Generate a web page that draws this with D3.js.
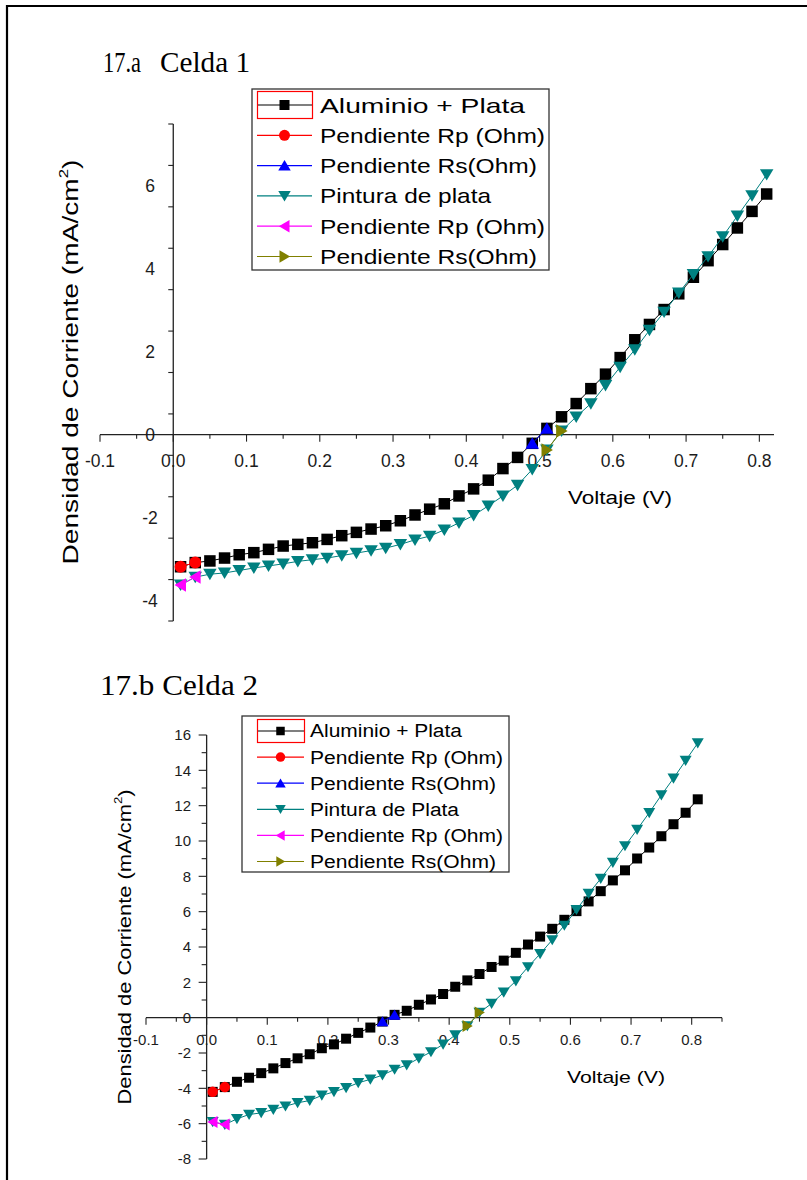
<!DOCTYPE html>
<html><head><meta charset="utf-8">
<script src="https://cdn.jsdelivr.net/npm/d3@7"></script>
<style>body{margin:0;background:#fff}svg{display:block}</style>
</head><body>
<svg id="c" width="807" height="1180"></svg>
<script>
// ---------- DATA ----------
const voltage = [0.01,0.03,0.05,0.07,0.09,0.11,0.13,0.15,0.17,0.19,0.21,0.23,0.25,0.27,0.29,0.31,0.33,0.35,0.37,0.39,0.41,0.43,0.45,0.47,0.49,0.51,0.53,0.55,0.57,0.59,0.61,0.63,0.65,0.67,0.69,0.71,0.73,0.75,0.77,0.79,0.81];

// Celda 1
const c1Aluminio = [-3.19,-3.09,-3.05,-2.98,-2.90,-2.85,-2.77,-2.69,-2.65,-2.61,-2.53,-2.44,-2.36,-2.28,-2.20,-2.08,-1.94,-1.80,-1.67,-1.48,-1.31,-1.10,-0.82,-0.55,-0.21,0.15,0.43,0.75,1.11,1.46,1.86,2.29,2.66,3.02,3.40,3.80,4.20,4.59,4.99,5.39,5.81];
const c1Pintura = [-3.63,-3.44,-3.37,-3.34,-3.28,-3.22,-3.17,-3.12,-3.06,-3.02,-2.98,-2.92,-2.86,-2.80,-2.74,-2.65,-2.54,-2.45,-2.30,-2.13,-1.95,-1.72,-1.48,-1.22,-0.84,-0.37,0.09,0.43,0.75,1.19,1.63,2.05,2.52,2.96,3.42,3.87,4.30,4.78,5.28,5.77,6.28];
const c1RpAlV = [0.01,0.03], c1RpAlJ = [-3.19,-3.09];
const c1RsAlV = [0.49,0.51], c1RsAlJ = [-0.21,0.15];
const c1RpPiV = [0.01,0.03], c1RpPiJ = [-3.63,-3.44];
const c1RsPiV = [0.51,0.53], c1RsPiJ = [-0.37,0.09];
const c1Legend = ["Aluminio + Plata","Pendiente Rp (Ohm)","Pendiente Rs(Ohm)","Pintura de plata","Pendiente Rp (Ohm)","Pendiente Rs(Ohm)"];
const c1XTicks = [-0.1,0.0,0.1,0.2,0.3,0.4,0.5,0.6,0.7,0.8];
const c1XTickLabels = ["-0.1","0.0","0.1","0.2","0.3","0.4","0.5","0.6","0.7","0.8"];
const c1YTicks = [-4,-2,0,2,4,6];
const c1YTickLabels = ["-4","-2","0","2","4","6"];

// Celda 2
const c2Aluminio = [-4.20,-3.93,-3.63,-3.40,-3.14,-2.87,-2.57,-2.30,-2.07,-1.73,-1.51,-1.19,-0.86,-0.56,-0.22,0.16,0.39,0.73,1.03,1.34,1.75,2.11,2.47,2.87,3.23,3.67,4.14,4.59,5.03,5.54,6.03,6.58,7.16,7.77,8.34,9.01,9.63,10.27,10.95,11.60,12.36];
const c2Pintura = [-5.90,-6.05,-5.73,-5.48,-5.39,-5.20,-5.01,-4.82,-4.69,-4.40,-4.20,-3.97,-3.69,-3.49,-3.25,-2.93,-2.68,-2.30,-1.94,-1.51,-0.98,-0.47,0.29,0.80,1.43,2.07,2.87,3.61,4.40,5.22,6.11,7.02,7.87,8.78,9.72,10.65,11.60,12.60,13.55,14.55,15.54];
const c2RpAlV = [0.01,0.03], c2RpAlJ = [-4.20,-3.93];
const c2RsAlV = [0.29,0.31], c2RsAlJ = [-0.22,0.16];
const c2RpPiV = [0.01,0.03], c2RpPiJ = [-5.90,-6.05];
const c2RsPiV = [0.43,0.45], c2RsPiJ = [-0.47,0.29];
const c2Legend = ["Aluminio + Plata","Pendiente Rp (Ohm)","Pendiente Rs(Ohm)","Pintura de Plata","Pendiente Rp (Ohm)","Pendiente Rs(Ohm)"];
const c2XTicks = [-0.1,0.0,0.1,0.2,0.3,0.4,0.5,0.6,0.7,0.8];
const c2XTickLabels = ["-0.1","0.0","0.1","0.2","0.3","0.4","0.5","0.6","0.7","0.8"];
const c2YTicks = [-8,-6,-4,-2,0,2,4,6,8,10,12,14,16];
const c2YTickLabels = ["-8","-6","-4","-2","0","2","4","6","8","10","12","14","16"];

const yTitle = "Densidad de Corriente (mA/cm";
const xTitle = "Voltaje (V)";

// ---------- DRAW ----------
const svg = d3.select("#c");
const SANS = "'Liberation Sans', Arial, sans-serif";
const SERIF = "'Liberation Serif', 'Times New Roman', serif";
const COL = {al:"#000000", rp:"#ff0000", rs:"#0000ff", pi:"#008080", rp2:"#ff00ff", rs2:"#808000"};

// outer frame (top & left)
svg.append("line").attr("x1",7).attr("x2",807).attr("y1",6).attr("y2",6).attr("stroke","#000").attr("stroke-width",2.2);
svg.append("line").attr("x1",7).attr("x2",7).attr("y1",5).attr("y2",1180).attr("stroke","#000").attr("stroke-width",2.2);

function marker(shape, s){
  const h = s/2;
  switch(shape){
    case "square": return `M${-h},${-h}H${h}V${h}H${-h}Z`;
    case "circle": return `M${-h},0A${h},${h} 0 1,0 ${h},0A${h},${h} 0 1,0 ${-h},0Z`;
    case "up": return `M0,${-h*0.9}L${h},${h*0.8}L${-h},${h*0.8}Z`;
    case "down": return `M0,${h*0.9}L${h},${-h*0.8}L${-h},${-h*0.8}Z`;
    case "left": return `M${-h*0.9},0L${h*0.8},${-h}L${h*0.8},${h}Z`;
    case "right": return `M${h*0.9},0L${-h*0.8},${-h}L${-h*0.8},${h}Z`;
  }
}

function panel(cfg){
  const g = svg.append("g");
  const x = d3.scaleLinear().domain(cfg.xDomain).range(cfg.xRange);
  const y = d3.scaleLinear().domain(cfg.yDomain).range(cfg.yRange);
  const x0 = x(0), y0 = y(0);

  cfg.title.forEach(t=>{
    g.append("text").attr("x",t.x).attr("y",t.y).attr("font-family",SERIF).attr("font-size",t.fs)
      .attr("textLength",t.len).attr("lengthAdjust","spacingAndGlyphs").attr("fill","#000").text(t.s);
  });

  const ax = g.append("g").attr("stroke","#222").attr("stroke-width",1.3);
  ax.append("line").attr("x1",x.range()[0]).attr("x2",x.range()[1]).attr("y1",y0).attr("y2",y0);
  ax.append("line").attr("x1",x0).attr("x2",x0).attr("y1",y.range()[0]).attr("y2",y.range()[1]);
  const xMinor = d3.range(cfg.xDomain[0], cfg.xDomain[1]+1e-9, 0.05);
  xMinor.forEach(v=>{
    const major = Math.abs(Math.round(v*10)-v*10)<1e-6;
    ax.append("line").attr("x1",x(v)).attr("x2",x(v)).attr("y1",y0).attr("y2",y0+(major?cfg.xMajLen:cfg.xMinLen)).attr("stroke-width",1.1);
  });
  d3.range(cfg.yDomain[0], cfg.yDomain[1]+1e-9, 1).forEach(v=>{
    const major = v%2===0;
    if (v===0) return;
    ax.append("line").attr("x1",x0).attr("x2",x0-(major?cfg.yMajLen:cfg.yMinLen)).attr("y1",y(v)).attr("y2",y(v)).attr("stroke-width",1.1);
  });
  cfg.xTicks.forEach((v,i)=>{
    g.append("text").attr("x",x(v)).attr("y",cfg.xLabBase).attr("text-anchor","middle")
      .attr("font-family",SANS).attr("font-size",cfg.tickFs).attr("fill","#1c1c1c").text(cfg.xTickLabels[i]);
  });
  cfg.yTicks.forEach((v,i)=>{
    g.append("text").attr("x",cfg.yLabX).attr("y",y(v)+cfg.tickFs*0.36).attr("text-anchor",cfg.yLabAnchor)
      .attr("font-family",SANS).attr("font-size",cfg.tickFs).attr("fill","#1c1c1c").text(cfg.yTickLabels[i]);
  });
  const yt = g.append("text").attr("transform",`translate(${cfg.yTitle.x},${cfg.yTitle.y}) rotate(-90)`)
    .attr("text-anchor","middle").attr("font-family",SANS).attr("font-size",cfg.yTitle.fs).attr("fill","#000")
    .attr("textLength",cfg.yTitle.len).attr("lengthAdjust","spacingAndGlyphs");
  yt.append("tspan").text(yTitle);
  yt.append("tspan").attr("dy",-cfg.yTitle.fs*0.45).attr("font-size",cfg.yTitle.fs*0.6).text("2");
  yt.append("tspan").attr("dy",cfg.yTitle.fs*0.45).text(")");
  g.append("text").attr("x",cfg.xTitle.x).attr("y",cfg.xTitle.y).attr("font-family",SANS).attr("font-size",cfg.xTitle.fs)
    .attr("textLength",cfg.xTitle.len).attr("lengthAdjust","spacingAndGlyphs").attr("fill","#000").text(xTitle);

  const line = d3.line().x(d=>x(d[0])).y(d=>y(d[1]));
  const series = [
    {V:voltage, J:cfg.al, col:COL.al, shape:"square"},
    {V:voltage, J:cfg.pi, col:COL.pi, shape:"down"},
    {V:cfg.rpAl[0], J:cfg.rpAl[1], col:COL.rp, shape:"circle"},
    {V:cfg.rsAl[0], J:cfg.rsAl[1], col:COL.rs, shape:"up"},
    {V:cfg.rpPi[0], J:cfg.rpPi[1], col:COL.rp2, shape:"left"},
    {V:cfg.rsPi[0], J:cfg.rsPi[1], col:COL.rs2, shape:"right"},
  ];
  series.forEach(s=>{
    const pts = s.V.map((v,i)=>[v,s.J[i]]);
    g.append("path").attr("d",line(pts)).attr("fill","none").attr("stroke",s.col).attr("stroke-width",1);
    g.selectAll(null).data(pts).enter().append("path")
      .attr("transform",d=>`translate(${x(d[0])},${y(d[1])})`)
      .attr("d",marker(s.shape, s.shape==="square"?cfg.sq:(s.shape==="circle"?cfg.ci:cfg.tri)))
      .attr("fill",s.col);
  });

  const L = cfg.legend;
  const lg = g.append("g");
  lg.append("rect").attr("x",L.x).attr("y",L.y).attr("width",L.w).attr("height",L.h).attr("fill","#fff").attr("stroke","#333").attr("stroke-width",1.3);
  const legSeries = [
    {col:COL.al,shape:"square"},{col:COL.rp,shape:"circle"},{col:COL.rs,shape:"up"},
    {col:COL.pi,shape:"down"},{col:COL.rp2,shape:"left"},{col:COL.rs2,shape:"right"}];
  legSeries.forEach((s,i)=>{
    const cy = L.row0 + i*L.dy;
    lg.append("line").attr("x1",L.sx0).attr("x2",L.sx1).attr("y1",cy).attr("y2",cy).attr("stroke",s.col).attr("stroke-width",1.2);
    const cx = (L.sx0+L.sx1)/2;
    lg.append("path").attr("transform",`translate(${cx},${cy})`)
      .attr("d",marker(s.shape, s.shape==="square"?L.sq:(s.shape==="circle"?L.ci:L.tri))).attr("fill",s.col);
    lg.append("text").attr("x",L.tx).attr("y",cy+L.fs*0.36).attr("font-family",SANS).attr("font-size",L.fs)
      .attr("textLength",L.lens[i]).attr("lengthAdjust","spacingAndGlyphs").attr("fill","#000").text(cfg.legendLabels[i]);
  });
  lg.append("rect").attr("x",L.sx0+0.5).attr("y",L.row0-L.rh/2).attr("width",L.sx1-L.sx0).attr("height",L.rh)
    .attr("fill","none").attr("stroke","#ff0000").attr("stroke-width",1.2);
}

panel({
  xDomain:[-0.1,0.82], xRange:[100,774], yDomain:[-4.5,7.5], yRange:[621,124],
  title:[{s:"17.a",x:103,y:72,fs:29,len:38},{s:"Celda 1",x:160,y:72,fs:29,len:90}],
  xMajLen:7, xMinLen:4, yMajLen:9, yMinLen:5,
  xTicks:c1XTicks, xTickLabels:c1XTickLabels, yTicks:c1YTicks, yTickLabels:c1YTickLabels,
  tickFs:17.5, xLabBase:467, yLabX:150, yLabAnchor:"middle",
  yTitle:{x:78,y:362,fs:22.5,len:405}, xTitle:{x:568,y:504,fs:18,len:104},
  al:c1Aluminio, pi:c1Pintura, rpAl:[c1RpAlV,c1RpAlJ], rsAl:[c1RsAlV,c1RsAlJ], rpPi:[c1RpPiV,c1RpPiJ], rsPi:[c1RsPiV,c1RsPiJ],
  sq:11.5, ci:12, tri:13.5,
  legendLabels:c1Legend,
  legend:{x:252,y:89,w:297,h:181,row0:105,dy:30.3,sx0:257,sx1:312,tx:320,fs:21,rh:27,sq:10,ci:11,tri:12.5,lens:[205,225,217,171,225,217]}
});

panel({
  xDomain:[-0.1,0.85], xRange:[146,722], yDomain:[-8,16], yRange:[1159,735],
  title:[{s:"17.b Celda 2",x:100,y:695,fs:30,len:158}],
  xMajLen:7, xMinLen:4, yMajLen:8, yMinLen:5,
  xTicks:c2XTicks, xTickLabels:c2XTickLabels, yTicks:c2YTicks, yTickLabels:c2YTickLabels,
  tickFs:15, xLabBase:1045, yLabX:191, yLabAnchor:"end",
  yTitle:{x:131,y:947,fs:19,len:315}, xTitle:{x:567,y:1083,fs:17,len:98},
  al:c2Aluminio, pi:c2Pintura, rpAl:[c2RpAlV,c2RpAlJ], rsAl:[c2RsAlV,c2RsAlJ], rpPi:[c2RpPiV,c2RpPiJ], rsPi:[c2RsPiV,c2RsPiJ],
  sq:10, ci:10.5, tri:12,
  legendLabels:c2Legend,
  legend:{x:242,y:716,w:267,h:156,row0:731,dy:26.1,sx0:257,sx1:304,tx:310,fs:18,rh:23,sq:8.5,ci:9.5,tri:10.5,lens:[152,193,186,149,193,186]}
});
</script>
</body></html>
